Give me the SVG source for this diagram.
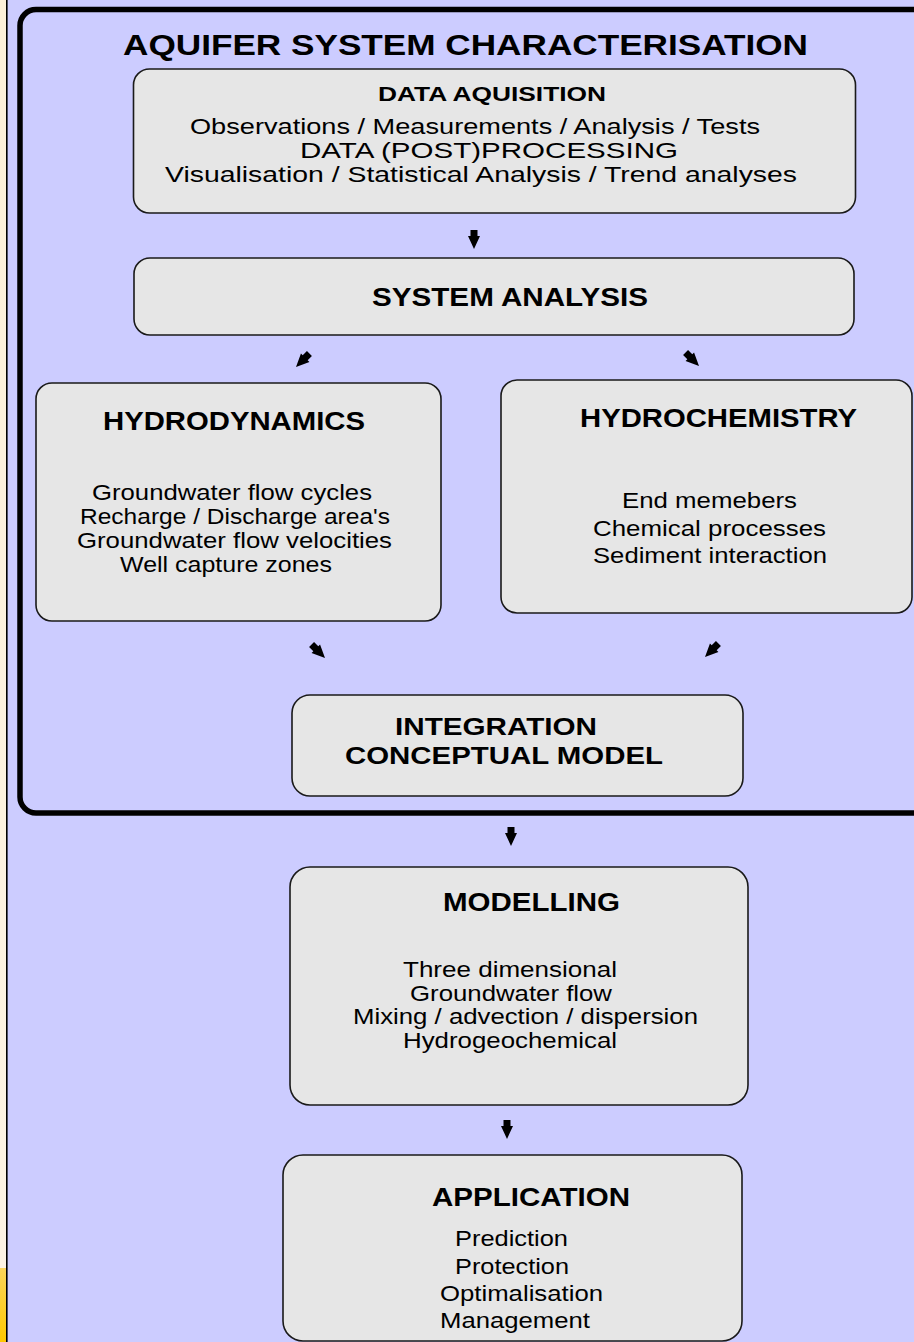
<svg xmlns="http://www.w3.org/2000/svg" width="914" height="1342" viewBox="0 0 914 1342">
<defs>
<linearGradient id="cream" x1="0" y1="0" x2="0" y2="1">
<stop offset="0" stop-color="#fdf0d8"/><stop offset="1" stop-color="#fdf3e3"/>
</linearGradient>
<linearGradient id="gold" x1="0" y1="0" x2="0" y2="1">
<stop offset="0" stop-color="#fbd45a"/><stop offset="1" stop-color="#ffc800"/>
</linearGradient>
<path id="arr" d="M-3.5,-19 H3.5 V-13 H6 L0,0 L-6,-13 H-3.5 Z"/>
</defs>
<style>
.box{fill:#e6e6e6;stroke:#1a1a1a;stroke-width:1.6}
.t{font-family:"Liberation Sans",Arial,sans-serif;fill:#000;text-anchor:middle}
.b{font-weight:bold}
.body{font-size:22.5px}
.hd{font-size:26px;font-weight:bold}
.arrow{fill:#000}
</style>
<rect x="0" y="0" width="914" height="1342" fill="#ccccff"/>
<rect x="0" y="0" width="6" height="1268" fill="url(#cream)"/>
<rect x="0" y="1268" width="6" height="74" fill="url(#gold)"/>
<rect x="6" y="0" width="1.6" height="1342" fill="#000"/>
<rect id="outer" x="20" y="9.5" width="930" height="803.5" rx="16" fill="none" stroke="#000" stroke-width="5.5"/>
<text class="t b" x="465.5" y="55" font-size="29" textLength="685" lengthAdjust="spacingAndGlyphs">AQUIFER SYSTEM CHARACTERISATION</text>

<g id="data">
<rect class="box" x="133.5" y="69" width="722" height="144" rx="16"/>
<text class="t b" x="492" y="101" font-size="21" textLength="228" lengthAdjust="spacingAndGlyphs">DATA AQUISITION</text>
<text class="t body" x="475" y="134" textLength="570" lengthAdjust="spacingAndGlyphs">Observations / Measurements / Analysis / Tests</text>
<text class="t body" x="489" y="158" textLength="378" lengthAdjust="spacingAndGlyphs">DATA (POST)PROCESSING</text>
<text class="t body" x="481" y="182" textLength="632" lengthAdjust="spacingAndGlyphs">Visualisation / Statistical Analysis / Trend analyses</text>
</g>
<g id="system">
<rect class="box" x="134" y="258" width="720" height="77" rx="16"/>
<text class="t hd" x="510" y="306" textLength="276" lengthAdjust="spacingAndGlyphs">SYSTEM ANALYSIS</text>
</g>
<g id="hydrodynamics">
<rect class="box" x="36" y="383" width="405" height="238" rx="16"/>
<text class="t hd" x="234" y="430" textLength="262" lengthAdjust="spacingAndGlyphs">HYDRODYNAMICS</text>
<text class="t body" x="232" y="500" textLength="280" lengthAdjust="spacingAndGlyphs">Groundwater flow cycles</text>
<text class="t body" x="235" y="524" textLength="310" lengthAdjust="spacingAndGlyphs">Recharge / Discharge area's</text>
<text class="t body" x="234.5" y="548" textLength="315" lengthAdjust="spacingAndGlyphs">Groundwater flow velocities</text>
<text class="t body" x="226" y="572" textLength="212" lengthAdjust="spacingAndGlyphs">Well capture zones</text>
</g>
<g id="hydrochemistry">
<rect class="box" x="501" y="380" width="411" height="233" rx="16"/>
<text class="t hd" x="718.5" y="427" textLength="277" lengthAdjust="spacingAndGlyphs">HYDROCHEMISTRY</text>
<text class="t body" x="709.5" y="508" textLength="175" lengthAdjust="spacingAndGlyphs">End memebers</text>
<text class="t body" x="709.5" y="536" textLength="233" lengthAdjust="spacingAndGlyphs">Chemical processes</text>
<text class="t body" x="710" y="563" textLength="234" lengthAdjust="spacingAndGlyphs">Sediment interaction</text>
</g>
<g id="integration">
<rect class="box" x="292" y="695" width="451" height="101" rx="18"/>
<text class="t b" x="496" y="735" font-size="24" textLength="202" lengthAdjust="spacingAndGlyphs">INTEGRATION</text>
<text class="t b" x="504" y="764" font-size="24" textLength="318" lengthAdjust="spacingAndGlyphs">CONCEPTUAL MODEL</text>
</g>
<g id="modelling">
<rect class="box" x="290" y="867" width="458" height="238" rx="20"/>
<text class="t hd" x="531.5" y="911" textLength="177" lengthAdjust="spacingAndGlyphs">MODELLING</text>
<text class="t body" x="510" y="977" textLength="214" lengthAdjust="spacingAndGlyphs">Three dimensional</text>
<text class="t body" x="511" y="1000.5" textLength="202" lengthAdjust="spacingAndGlyphs">Groundwater flow</text>
<text class="t body" x="525.5" y="1024" textLength="345" lengthAdjust="spacingAndGlyphs">Mixing / advection / dispersion</text>
<text class="t body" x="510" y="1047.5" textLength="214" lengthAdjust="spacingAndGlyphs">Hydrogeochemical</text>
</g>
<g id="application">
<rect class="box" x="283" y="1155" width="459" height="186" rx="20"/>
<text class="t hd" x="531" y="1206" textLength="198" lengthAdjust="spacingAndGlyphs">APPLICATION</text>
<text class="t body" x="511.5" y="1246" textLength="113" lengthAdjust="spacingAndGlyphs">Prediction</text>
<text class="t body" x="512" y="1274" textLength="114" lengthAdjust="spacingAndGlyphs">Protection</text>
<text class="t body" x="521.5" y="1301" textLength="163" lengthAdjust="spacingAndGlyphs">Optimalisation</text>
<text class="t body" x="515" y="1328" textLength="150" lengthAdjust="spacingAndGlyphs">Management</text>
</g>
<g id="connectors" class="arrow">
<use href="#arr" transform="translate(474,249)"/>
<use href="#arr" transform="translate(296,367) rotate(45)"/>
<use href="#arr" transform="translate(699,366) rotate(-45)"/>
<use href="#arr" transform="translate(325,658) rotate(-45)"/>
<use href="#arr" transform="translate(705,657) rotate(45)"/>
<use href="#arr" transform="translate(511,846)"/>
<use href="#arr" transform="translate(507,1139)"/>
</g>
</svg>
